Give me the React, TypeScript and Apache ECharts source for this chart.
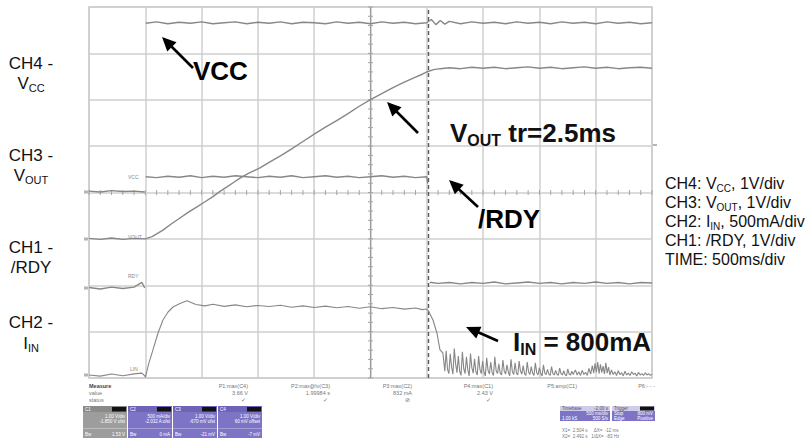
import { useEffect, useRef } from 'react';
import * as echarts from 'echarts';

const FONT = '"Liberation Sans", Arial, Helvetica, sans-serif';

// ---- axes: time in ms (10 divisions), 8 vertical divisions ----
const TIME_MIN = 0;
const TIME_MAX = 5000;
const TIME_STEP = 500;
const DIVS = 8;
const CURSOR_T = 3010;
const CENTER_T = 2500;

// ---- channels: name, units per division, ground position (divisions from bottom) ----
const channelNames = ['CH4 VCC', 'CH3 VOUT', 'CH1 /RDY', 'CH2 IIN'];
const unitsPerDiv = [1, 1, 1, 500];
const groundDiv = [4.02, 3.0, 1.94, 0.065];

// ---- traces [time ms, value]; '-' marks an edge too fast to be drawn ----
const vccData: any[][] = [
  [0, 0.01], [100, -0.01], [200, 0.02], [300, 0.0], [400, 0.01], [495, -0.01], [500, '-'],
  [505, 3.63], [600, 3.66], [700, 3.62], [800, 3.65], [900, 3.63], [1000, 3.66], [1100, 3.62], [1200, 3.64],
  [1300, 3.66], [1400, 3.62], [1500, 3.65], [1600, 3.63], [1700, 3.66], [1800, 3.62], [1900, 3.65], [2000, 3.64],
  [2100, 3.62], [2200, 3.66], [2300, 3.63], [2400, 3.65], [2500, 3.62], [2600, 3.66], [2700, 3.63], [2800, 3.65],
  [2900, 3.62], [3000, 3.64], [3040, 3.71], [3080, 3.6], [3120, 3.69], [3160, 3.61], [3200, 3.67], [3300, 3.62],
  [3400, 3.66], [3500, 3.63], [3600, 3.65], [3700, 3.62], [3800, 3.66], [3900, 3.63], [4000, 3.65], [4100, 3.62],
  [4200, 3.66], [4300, 3.63], [4400, 3.65], [4500, 3.62], [4600, 3.66], [4700, 3.63], [4800, 3.65], [4900, 3.62],
  [5000, 3.64],
];

const voutData: any[][] = [
  [0, 0.01], [100, -0.01], [200, 0.02], [300, -0.01], [400, 0.01], [500, 0.0], [560, 0.05], [657, 0.19],
  [730, 0.32], [808, 0.45], [880, 0.57], [959, 0.69], [1030, 0.8], [1101, 0.91], [1160, 1.02], [1225, 1.12],
  [1280, 1.21], [1341, 1.31], [1420, 1.42], [1518, 1.53], [1600, 1.65], [1700, 1.79], [1800, 1.94], [1900, 2.1],
  [2007, 2.27], [2100, 2.41], [2200, 2.55], [2300, 2.7], [2400, 2.86], [2504, 3.01], [2600, 3.13], [2700, 3.26],
  [2800, 3.38], [2900, 3.49], [2960, 3.55], [3010, 3.61], [3060, 3.65], [3120, 3.67], [3200, 3.69], [3300, 3.67],
  [3400, 3.7], [3500, 3.68], [3600, 3.7], [3700, 3.67], [3800, 3.69], [3900, 3.71], [4000, 3.68], [4100, 3.7],
  [4200, 3.67], [4300, 3.69], [4400, 3.71], [4500, 3.68], [4600, 3.7], [4700, 3.67], [4800, 3.69], [4900, 3.7],
  [5000, 3.68],
];

const rdyData: any[][] = [
  [0, 0.01], [100, -0.02], [200, 0.02], [300, -0.01], [400, 0.02], [470, 0.12], [495, 0.0], [500, '-'],
  [505, 2.4], [600, 2.38], [700, 2.41], [800, 2.39], [900, 2.42], [1000, 2.38], [1100, 2.41], [1200, 2.39],
  [1300, 2.42], [1400, 2.4], [1500, 2.38], [1600, 2.41], [1700, 2.39], [1800, 2.42], [1900, 2.38], [2000, 2.4],
  [2100, 2.42], [2200, 2.39], [2300, 2.41], [2400, 2.38], [2500, 2.4], [2600, 2.42], [2700, 2.39], [2800, 2.41],
  [2900, 2.38], [3000, 2.4], [3008, 2.25], [3012, '-'], [3025, 0.12], [3040, 0.12], [3100, 0.1], [3200, 0.12], [3300, 0.09],
  [3400, 0.12], [3500, 0.1], [3600, 0.13], [3700, 0.09], [3800, 0.11], [3900, 0.13], [4000, 0.1], [4100, 0.12],
  [4200, 0.09], [4300, 0.12], [4400, 0.1], [4500, 0.13], [4600, 0.1], [4700, 0.12], [4800, 0.09], [4900, 0.12],
  [5000, 0.11],
];

const iinData: any[][] = [
  [0, 0], [100, -12], [200, 10], [300, -8], [400, 12], [470, 20], [495, -10],
  [500, -25], [530, 120], [568, 270], [613, 453], [657, 593], [702, 679], [746, 733], [808, 770], [870, 800],
  [950, 760], [1030, 745], [1100, 762], [1200, 740], [1300, 756], [1400, 735], [1500, 750], [1600, 738],
  [1700, 752], [1800, 730], [1900, 745], [2000, 728], [2100, 742], [2200, 725], [2300, 738], [2400, 720],
  [2500, 735], [2600, 715], [2700, 728], [2800, 710], [2900, 722], [2960, 705], [3000, 712], [3015, 690],
  [3055, 593], [3090, 453], [3117, 270], [3143, 237],
  [3160, 40], [3172, 262], [3184, 60], [3196, 15], [3208, 228], [3220, 90], [3232, 8], [3244, 285],
  [3256, 120], [3268, 25], [3280, 205], [3292, 40], [3304, -5], [3316, 250], [3328, 70], [3340, 15],
  [3352, 195], [3364, 55], [3376, -10], [3388, 230], [3400, 80], [3412, 20], [3424, 175], [3436, 35],
  [3448, 0], [3460, 205], [3472, 60], [3484, 15], [3496, 150], [3508, 30], [3520, -10], [3532, 185],
  [3544, 50], [3556, 10], [3568, 140], [3580, 25], [3592, -5], [3604, 195], [3616, 45], [3628, 15],
  [3640, 120], [3652, 20], [3664, 0], [3676, 160], [3688, 40], [3700, 10], [3712, 110], [3724, 30],
  [3736, -10], [3748, 170], [3760, 35], [3772, 5], [3784, 130], [3796, 20], [3808, 0], [3820, 150],
  [3832, 40], [3844, 10], [3856, 100], [3868, 15], [3880, -5], [3892, 140], [3904, 30], [3916, 5],
  [3928, 90], [3940, 20], [3952, -5], [3964, 130], [3976, 25], [3988, 0], [4000, 80], [4012, 15],
  [4024, -10], [4036, 110], [4048, 20], [4060, 5], [4072, 60], [4084, 10], [4096, -5], [4108, 90],
  [4120, 15], [4132, 0], [4144, 50], [4156, 10], [4168, -5], [4180, 75], [4192, 15], [4204, 0],
  [4216, 45], [4228, 5], [4240, -10], [4252, 65], [4264, 10], [4276, 0], [4288, 40], [4300, 5],
  [4320, 55], [4335, 0], [4350, 35], [4365, -5], [4380, 50], [4395, 5], [4410, 30], [4425, -5],
  [4440, 70], [4455, 10], [4470, 100], [4482, 20], [4494, 125], [4506, 30], [4518, 140], [4530, 15],
  [4542, 115], [4554, 25], [4566, 95], [4578, 10], [4590, 130], [4602, 20], [4614, 85], [4626, 0],
  [4640, 55], [4655, 5], [4670, 35], [4685, -5], [4700, 45], [4715, 5], [4730, 25], [4745, -10],
  [4760, 40], [4775, 0], [4790, 20], [4805, -5], [4820, 35], [4835, 5], [4850, 20], [4865, -10],
  [4880, 30], [4895, 0], [4910, 15], [4925, -5], [4940, 25], [4955, 0], [4970, 15], [4985, -5], [5000, 10],
];

const traces = [vccData, voutData, rdyData, iinData];
const traceWidths = [1.4, 1.4, 1.4, 1.1];

// ---- texts ----
const measureHeads = ['P1:max(C4)', 'P2:max@lv(C3)', 'P3:max(C2)', 'P4:max(C1)', 'P5:amp(C1)', 'P6:- - -'];
const measureValues = ['3.66 V', '1.99984 s', '832 mA', '2.43 V', '', ''];
const measureStatus = ['✓', '✓', '⊘', '✓', '', ''];
const chanBoxNames = ['C1', 'C2', 'C3', 'C4'];
const chanBoxScale = ['1.00 V/div', '500 mA/div', '1.00 V/div', '1.00 V/div'];
const chanBoxOffset = ['-1.850 V ofst', '-2.032 A ofst', '-670 mV ofst', '60 mV offset'];
const chanBoxBottom = ['1.53 V', '0 mA', '-21 mV', '-7 mV'];

function arrow(tx: number, ty: number, hx: number, hy: number) {
  const dx = hx - tx;
  const dy = hy - ty;
  const len = Math.hypot(dx, dy);
  const ux = dx / len;
  const uy = dy / len;
  const L = 14;
  const W = 6.5;
  const bx = hx - ux * L;
  const by = hy - uy * L;
  return [
    { type: 'line', z: 100, shape: { x1: tx, y1: ty, x2: bx + ux * 2, y2: by + uy * 2 }, style: { stroke: '#000', lineWidth: 2.6 } },
    {
      type: 'polygon', z: 100,
      shape: { points: [[hx, hy], [bx - uy * W, by + ux * W], [bx + uy * W, by - ux * W]] },
      style: { fill: '#000' },
    },
  ];
}

function txt(x: number, y: number, text: string, extra: any = {}) {
  return {
    type: 'text', x, y, z: 100,
    style: { text, fontFamily: FONT, fontSize: 17, fill: '#111', align: 'left', verticalAlign: 'middle', ...extra },
  };
}

function sub(main: string, s: string, rest: string, x: number, y: number, size: number, subSize: number, subDrop: number, bold: boolean, align = 'left') {
  const lh = size + 4;
  const w = bold ? 'bold' : 'normal';
  return {
    type: 'text', x, y, z: 100,
    style: {
      text: `{m|${main}}{s|${s}}` + (rest ? `{m|${rest}}` : ''),
      align, verticalAlign: 'middle',
      rich: {
        m: { fontFamily: FONT, fontSize: size, fontWeight: w, fill: '#111', lineHeight: lh },
        s: { fontFamily: FONT, fontSize: subSize, fontWeight: w, fill: '#111', lineHeight: lh - 2 * subDrop, verticalAlign: 'bottom' },
      },
    },
  };
}

function small(x: number, y: number, text: string, fill = '#777', align = 'left', size = 5.5, weight = 'normal') {
  return {
    type: 'text', x, y, z: 100,
    style: { text, fontFamily: FONT, fontSize: size, fill, align, verticalAlign: 'middle', fontWeight: weight },
  };
}

export default function App() {
  const ref = useRef<HTMLDivElement>(null);
  useEffect(() => {
    if (!ref.current) return;
    const chart = echarts.init(ref.current, null, { renderer: 'svg' });

    const graphics: any[] = [];
    // left channel labels
    graphics.push(txt(31, 63, 'CH4 -', { align: 'center' }));
    graphics.push(sub('V', 'CC', '', 31, 83, 17, 11, 4.5, false, 'center'));
    graphics.push(txt(31, 155, 'CH3 -', { align: 'center' }));
    graphics.push(sub('V', 'OUT', '', 31, 175, 17, 11, 4.5, false, 'center'));
    graphics.push(txt(31, 247, 'CH1 -', { align: 'center' }));
    graphics.push(txt(31, 267, '/RDY', { align: 'center' }));
    graphics.push(txt(31, 322, 'CH2 -', { align: 'center' }));
    graphics.push(sub('I', 'IN', '', 31, 343, 17, 11, 4.5, false, 'center'));
    // right legend
    graphics.push(sub('CH4: V', 'CC', ', 1V/div', 665, 183, 16, 10, 3.5, false));
    graphics.push(sub('CH3: V', 'OUT', ', 1V/div', 665, 202, 16, 10, 3.5, false));
    graphics.push(sub('CH2: I', 'IN', ', 500mA/div', 665, 221, 16, 10, 3.5, false));
    graphics.push(txt(665, 240, 'CH1: /RDY, 1V/div', { fontSize: 16 }));
    graphics.push(txt(665, 259, 'TIME: 500ms/div', { fontSize: 16 }));
    // annotations
    graphics.push(txt(193, 71, 'VCC', { fontSize: 26, fontWeight: 'bold', fill: '#000' }));
    graphics.push(sub('V', 'OUT', ' tr=2.5ms', 450, 133, 26, 16, 4.5, true));
    graphics.push(txt(478, 219, '/RDY', { fontSize: 26, fontWeight: 'bold', fill: '#000' }));
    graphics.push(sub('I', 'IN', ' = 800mA', 513, 342, 26, 16, 4.5, true));
    graphics.push(...arrow(193, 68, 162, 37));
    graphics.push(...arrow(418, 133, 387, 102));
    graphics.push(...arrow(478, 207, 449, 180));
    graphics.push(...arrow(498, 341, 466, 327));
    // tiny scope trace labels and ground markers
    graphics.push(small(128, 177, 'VCC', '#888', 'left', 5));
    graphics.push(small(128, 237, 'VOUT', '#888', 'left', 5));
    graphics.push(small(128, 276, 'RDY', '#888', 'left', 5));
    graphics.push(small(130, 369, 'LIN', '#888', 'left', 5));
    [192, 239, 288, 375].forEach((gy) => {
      graphics.push({ type: 'rect', z: 100, shape: { x: 84, y: gy - 1.5, width: 4, height: 3 }, style: { fill: '#b5b5b5' } });
    });
    graphics.push({ type: 'rect', z: 100, shape: { x: 653, y: 144, width: 4, height: 2 }, style: { fill: '#b5b5b5' } });
    // measurement table
    graphics.push(small(89, 386, 'Measure', '#444', 'left', 5.5, 'bold'));
    graphics.push(small(89, 393, 'value', '#777'));
    graphics.push(small(89, 400, 'status', '#777'));
    const mx = [248, 330, 412, 493, 577, 655];
    measureHeads.forEach((h, i) => {
      graphics.push(small(mx[i], 386, h, '#777', 'right'));
      if (measureValues[i]) graphics.push(small(mx[i], 393, measureValues[i], '#777', 'right'));
      if (measureStatus[i]) graphics.push(small(mx[i] - 2, 400, measureStatus[i], '#777', 'right'));
    });
    // channel boxes
    chanBoxNames.forEach((n, i) => {
      const x0 = 83 + i * 45;
      const body = i === 0 ? '#9d9d9d' : '#7d74c6';
      graphics.push({ type: 'rect', z: 100, shape: { x: x0, y: 406, width: 44, height: 32 }, style: { fill: body } });
      graphics.push({ type: 'rect', z: 100, shape: { x: x0, y: 406, width: 44, height: 6 }, style: { fill: i === 0 ? '#8a8a8a' : '#6d64b8' } });
      graphics.push({ type: 'rect', z: 100, shape: { x: x0 + 29, y: 407, width: 14, height: 4.5 }, style: { fill: '#111' } });
      graphics.push({ type: 'rect', z: 100, shape: { x: x0, y: 428, width: 44, height: 1 }, style: { fill: i === 0 ? '#bdbdbd' : '#a39dd8' } });
      graphics.push(small(x0 + 2, 409, n, '#fff', 'left', 4.5));
      graphics.push(small(x0 + 42, 416, chanBoxScale[i], '#fff', 'right', 4.5));
      graphics.push(small(x0 + 42, 421, chanBoxOffset[i], '#fff', 'right', 4.5));
      graphics.push(small(x0 + 2, 434, 'Bw', '#fff', 'left', 4.5));
      graphics.push(small(x0 + 42, 434, chanBoxBottom[i], '#fff', 'right', 4.5));
    });
    // timebase / trigger boxes
    graphics.push({ type: 'rect', z: 100, shape: { x: 560, y: 406, width: 50, height: 15 }, style: { fill: '#7d74c6' } });
    graphics.push({ type: 'rect', z: 100, shape: { x: 560, y: 406, width: 50, height: 5 }, style: { fill: '#cfcbe9' } });
    graphics.push({ type: 'rect', z: 100, shape: { x: 612, y: 406, width: 43, height: 15 }, style: { fill: '#7d74c6' } });
    graphics.push({ type: 'rect', z: 100, shape: { x: 612, y: 406, width: 43, height: 5 }, style: { fill: '#cfcbe9' } });
    graphics.push({ type: 'rect', z: 100, shape: { x: 640, y: 406.5, width: 14, height: 4 }, style: { fill: '#111' } });
    graphics.push(small(562, 408.5, 'Timebase', '#555', 'left', 4.5));
    graphics.push(small(608, 408.5, '-2.00 s', '#555', 'right', 4.5));
    graphics.push(small(608, 413.5, '500 ms/div', '#fff', 'right', 4.5));
    graphics.push(small(562, 418, '1.00 kS', '#fff', 'left', 4.5));
    graphics.push(small(608, 418, '500 S/s', '#fff', 'right', 4.5));
    graphics.push(small(614, 408.5, 'Trigger', '#555', 'left', 4.5));
    graphics.push(small(614, 413.5, 'Stop', '#fff', 'left', 4.5));
    graphics.push(small(653, 413.5, '800 mV', '#fff', 'right', 4.5));
    graphics.push(small(614, 418, 'Edge', '#fff', 'left', 4.5));
    graphics.push(small(653, 418, 'Positive', '#fff', 'right', 4.5));
    graphics.push(small(562, 430, 'X1=  2.504 s     ΔX=  -12 ms', '#777', 'left', 4.5));
    graphics.push(small(562, 436, 'X2=  2.492 s   1/ΔX=  -83 Hz', '#777', 'left', 4.5));

    const traceSeries = traces.map((d, i) => ({
      name: channelNames[i],
      type: 'line',
      yAxisIndex: i + 1,
      data: d,
      showSymbol: false,
      symbol: 'none',
      silent: true,
      connectNulls: false,
      z: 5,
      lineStyle: { color: '#878787', width: traceWidths[i] },
      ...(i === 0
        ? {
            markLine: {
              silent: true,
              symbol: 'none',
              label: { show: false },
              lineStyle: { color: '#5a5a5a', width: 1.4, type: [4, 3] },
              data: [{ xAxis: CURSOR_T }],
            },
          }
        : {}),
    }));

    const splitStyle = { show: true, lineStyle: { color: '#cfcfcf', width: 1.5 } };

    chart.setOption({
      animation: false,
      backgroundColor: '#ffffff',
      grid: {
        left: 89, top: 7, width: 563, height: 371,
        show: true, borderColor: '#c6c6c6', borderWidth: 1.5, backgroundColor: 'transparent',
      },
      xAxis: {
        type: 'value', min: TIME_MIN, max: TIME_MAX, interval: TIME_STEP,
        axisLine: { show: false }, axisTick: { show: false }, axisLabel: { show: false },
        splitLine: splitStyle,
      },
      yAxis: [
        {
          type: 'value', min: 0, max: DIVS, interval: 1,
          axisLine: { show: false }, axisTick: { show: false }, axisLabel: { show: false },
          splitLine: splitStyle,
        },
        ...unitsPerDiv.map((u, i) => ({
          type: 'value', show: false,
          min: -groundDiv[i] * u, max: (DIVS - groundDiv[i]) * u,
          splitLine: { show: false },
        })),
      ],
      graphic: graphics,
      series: [
        {
          type: 'custom', xAxisIndex: 0, yAxisIndex: 0, silent: true, clip: false, z: 3,
          data: [[CENTER_T, DIVS / 2]],
          renderItem: (_p: any, api: any) => {
            const children: any[] = [];
            const stroke = '#a5a5a5';
            const a = api.coord([CENTER_T, 0]);
            const b = api.coord([CENTER_T, DIVS]);
            children.push({ type: 'line', shape: { x1: a[0], y1: a[1], x2: b[0], y2: b[1] }, style: { stroke: '#9c9c9c', lineWidth: 1.2 } });
            for (let i = 0; i <= 50; i++) {
              const p = api.coord([TIME_MIN + i * (TIME_STEP / 5), DIVS / 2]);
              children.push({ type: 'line', shape: { x1: p[0], y1: p[1] - 2.5, x2: p[0], y2: p[1] + 2.5 }, style: { stroke, lineWidth: 1 } });
            }
            for (let i = 0; i <= 40; i++) {
              const p = api.coord([CENTER_T, i * 0.2]);
              children.push({ type: 'line', shape: { x1: p[0] - 2.5, y1: p[1], x2: p[0] + 2.5, y2: p[1] }, style: { stroke, lineWidth: 1 } });
            }
            return { type: 'group', children };
          },
        },
        ...traceSeries,
      ],
    });
    return () => chart.dispose();
  }, []);
  return (
    <div
      ref={ref}
      style={{ position: 'fixed', left: 0, top: 0, width: 806, height: 438, background: '#fff' }}
    />
  );
}
